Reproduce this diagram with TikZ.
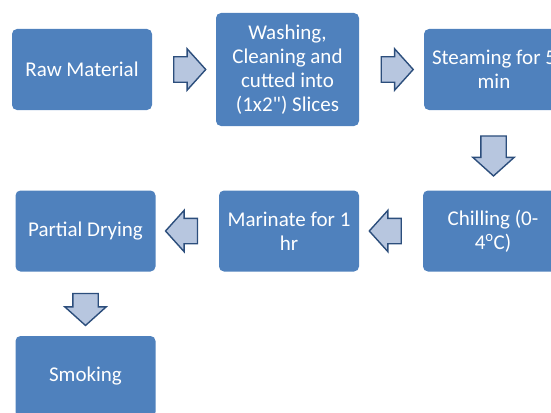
\documentclass[tikz,border=0pt]{standalone}
\usepackage{fontspec}
\setmainfont{Carlito}[Ligatures=TeXOff]
\usetikzlibrary{shapes.arrows, calc}
\definecolor{boxblue}{HTML}{4F81BD}
\definecolor{arrfill}{HTML}{B7C6DF}
\definecolor{arrline}{HTML}{2C4E7C}
\tikzset{
  stepbox/.style={fill=boxblue, rounded corners=5pt, text=white, align=center,
    font=\fontsize{21}{24}\selectfont, inner sep=0pt, minimum width=140pt, minimum height=81pt},
  flowarrow/.style={single arrow, draw=arrline, fill=arrfill, line width=1.4pt,
    inner xsep=0pt, inner ysep=12pt, single arrow head extend=8pt, single arrow tip angle=96,
    minimum height=32pt}
}
\begin{document}
\begin{tikzpicture}[x=1pt,y=-1pt]
  \useasboundingbox (0,0) rectangle (551,412);
  \clip (0,0) rectangle (551,412);
  % first row
  \node[stepbox] (raw) at (82,69.5) {Raw Material};
  \node[stepbox, minimum width=143pt, minimum height=113pt] (wash) at (287.5,69.5)
    {Washing,\\Cleaning and\\cutted into\\(1x2") Slices};
  \node[stepbox] (steam) at (494,69.5) {Steaming for 5\\min};
  % second row
  \node[stepbox] (chill) at (493,231) {Chilling (0-\\4\textsuperscript{o}C)};
  \node[stepbox] (marinate) at (289,231) {Marinate for 1\\hr};
  \node[stepbox] (dry) at (85.5,231) {Partial Drying};
  % last step
  \node[stepbox] (smoke) at (85.5,376.5) {Smoking};
  % block arrows
  \node[flowarrow] (a1) at ($(raw.east)!0.5!(wash.west)$) {};
  \node[flowarrow] (a2) at ($(wash.east)!0.5!(steam.west)$) {};
  \node[flowarrow, minimum height=40pt, rotate=-90] (a3) at ($(steam.south)!0.5!(chill.north)$) {};
  \node[flowarrow, rotate=180] (a4) at ($(chill.west)!0.5!(marinate.east)$) {};
  \node[flowarrow, rotate=180] (a5) at ($(marinate.west)!0.5!(dry.east)$) {};
  \node[flowarrow, rotate=-90] (a6) at ($(dry.south)!0.5!(smoke.north)$) {};
\end{tikzpicture}
\end{document}
